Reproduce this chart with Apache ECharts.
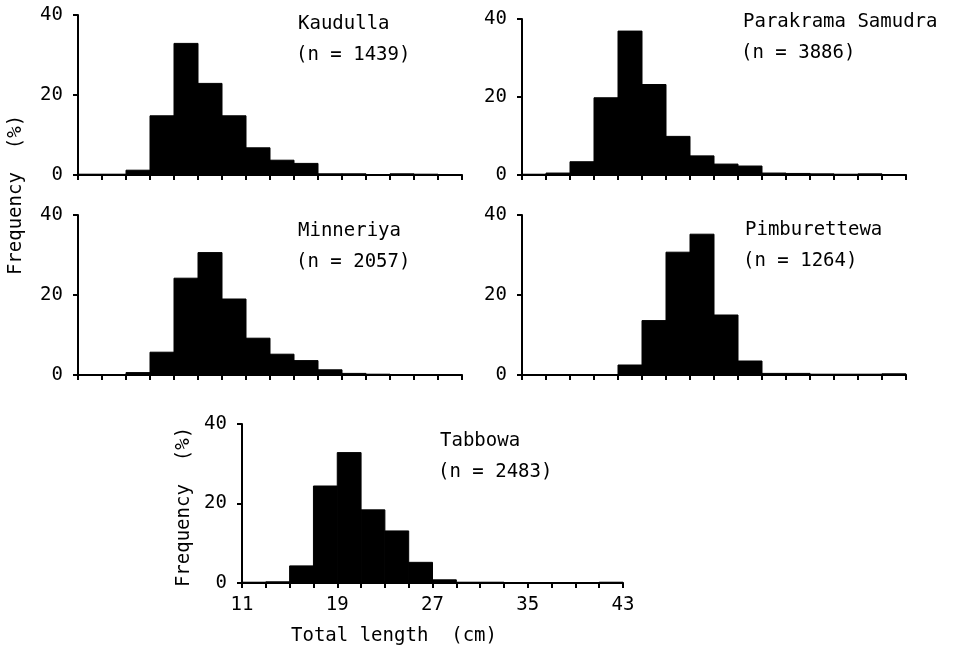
<!DOCTYPE html>
<html>

<head>
  <meta charset="UTF-8">
  <title>Total length frequency</title>
</head>

<body style="margin:0;background:#fff">
  <div id="main" style="width:953px;height:659px;"></div>
  <script src="https://cdn.jsdelivr.net/npm/echarts@6/dist/echarts.min.js"></script>
  <script>
    // 2 cm length classes, lower edges (cm)
    const binStarts = [11, 13, 15, 17, 19, 21, 23, 25, 27, 29, 31, 33, 35, 37, 39, 41];
    const binWidth = 2;
    const xLabels = [11, 19, 27, 35, 43];

    // frequency (%) per class
    const kaudulla = [0.2, 0.2, 1.2, 14.8, 32.9, 22.9, 14.8, 6.8, 3.7, 2.9, 0.3, 0.3, 0.1, 0.3, 0.2, 0.1];
    const parakrama = [0.2, 0.5, 3.4, 19.8, 36.9, 23.2, 9.9, 4.9, 2.8, 2.3, 0.5, 0.4, 0.3, 0.2, 0.3, 0.1];
    const minneriya = [0.1, 0.1, 0.6, 5.7, 24.2, 30.6, 19.0, 9.2, 5.2, 3.6, 1.3, 0.4, 0.2, 0.1, 0.1, 0.1];
    const pimburettewa = [0, 0, 0, 0, 2.5, 13.6, 30.7, 35.2, 15.0, 3.5, 0.4, 0.4, 0.2, 0.2, 0.2, 0.3];
    const tabbowa = [0.2, 0.3, 4.3, 24.4, 32.8, 18.4, 13.1, 5.2, 0.8, 0.2, 0.2, 0.1, 0.1, 0.1, 0.1, 0.2];

    const panels = [
      { name: 'Kaudulla', n: 1439, data: kaudulla, grid: { left: 78, top: 15, width: 384, height: 160 }, text: [298, 25] },
      { name: 'Parakrama Samudra', n: 3886, data: parakrama, grid: { left: 522, top: 19, width: 384, height: 156 }, text: [743, 23] },
      { name: 'Minneriya', n: 2057, data: minneriya, grid: { left: 78, top: 215, width: 384, height: 160 }, text: [298, 232] },
      { name: 'Pimburettewa', n: 1264, data: pimburettewa, grid: { left: 522, top: 215, width: 384, height: 160 }, text: [745, 231] },
      { name: 'Tabbowa', n: 2483, data: tabbowa, grid: { left: 242, top: 424, width: 381, height: 159 }, text: [440, 442] }
    ];

    const X0 = binStarts[0];
    const X1 = binStarts[binStarts.length - 1] + binWidth;
    const font = 'DejaVu Sans Mono';
    const textFont = '19px "' + font + '"';
    const lineStyle = { color: '#000', width: 2 };

    const grid = [], xAxis = [], yAxis = [], series = [], graphic = [];

    panels.forEach((p, i) => {
      const last = i === panels.length - 1;
      grid.push(p.grid);
      xAxis.push({
        type: 'value', gridIndex: i, min: 0, max: X1 - X0, interval: binWidth,
        axisLine: { lineStyle }, axisTick: { length: 5, lineStyle }, splitLine: { show: false },
        axisLabel: {
          show: last, margin: 13, color: '#000', fontFamily: font, fontSize: 19,
          formatter: v => xLabels.includes(v + X0) ? String(v + X0) : ''
        }
      });
      yAxis.push({
        type: 'value', gridIndex: i, min: 0, max: 40, interval: 20,
        axisLine: { show: true, lineStyle }, axisTick: { show: true, length: 5, lineStyle },
        splitLine: { show: false },
        axisLabel: { margin: 15, color: '#000', fontFamily: font, fontSize: 19 }
      });
      series.push({
        type: 'custom', xAxisIndex: i, yAxisIndex: i,
        data: binStarts.map((s, k) => [s - X0, s - X0 + binWidth, p.data[k]]),
        renderItem: (params, api) => {
          const a = api.coord([api.value(0), api.value(2)]);
          const b = api.coord([api.value(1), 0]);
          return {
            type: 'rect',
            shape: { x: a[0], y: a[1], width: b[0] - a[0], height: b[1] - a[1] },
            style: { fill: '#000', stroke: '#000', lineWidth: 1 }
          };
        }
      });
      graphic.push({
        type: 'text', left: p.text[0], top: p.text[1] - 10,
        style: { text: p.name, fill: '#000', font: textFont }
      });
      graphic.push({
        type: 'text', left: p.text[0] - 2, top: p.text[1] + 21,
        style: { text: '(n = ' + p.n + ')', fill: '#000', font: textFont }
      });
    });

    // axis titles
    graphic.push({
      type: 'text', x: 16, y: 195, rotation: Math.PI / 2,
      style: { text: 'Frequency  (%)', fill: '#000', font: textFont, align: 'center', verticalAlign: 'middle' }
    });
    graphic.push({
      type: 'text', x: 184, y: 507, rotation: Math.PI / 2,
      style: { text: 'Frequency  (%)', fill: '#000', font: textFont, align: 'center', verticalAlign: 'middle' }
    });
    graphic.push({
      type: 'text', x: 394, y: 636,
      style: { text: 'Total length  (cm)', fill: '#000', font: textFont, align: 'center', verticalAlign: 'middle' }
    });

    const chart = echarts.init(document.getElementById('main'));
    chart.setOption({ animation: false, grid, xAxis, yAxis, series, graphic });
  </script>
</body>

</html>
